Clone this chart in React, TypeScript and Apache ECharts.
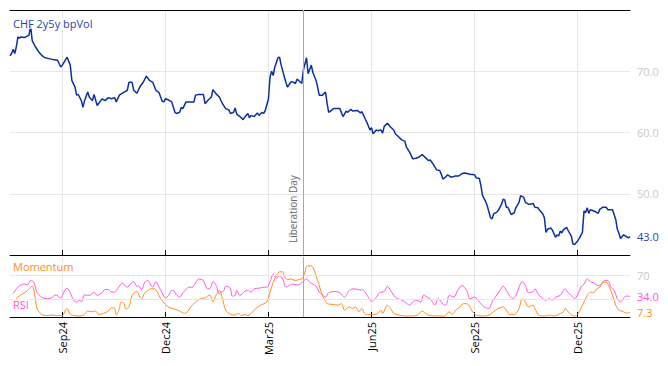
import React, { useEffect, useRef } from "react";
import * as echarts from "echarts";

// ---- axis / calendar ----
const START_DATE = "2024-07-17";
const TRADING_DAYS = 392;
const LIBERATION_DATE = "2025-04-02";
const MONTHS = ["Jan", "Feb", "Mar", "Apr", "May", "Jun", "Jul", "Aug", "Sep", "Oct", "Nov", "Dec"];
const QUARTER_MONTHS = [3, 6, 9, 12];

// ---- CHF 2y5y bpVol (trading-day index, value) ----
const volDay = [0, 1, 2, 3, 4, 5, 6, 7, 9, 10, 12, 13, 14, 16, 18, 20, 22, 24, 27, 30, 32, 33, 36, 38, 39, 41, 42, 43, 45, 46, 47, 49, 50, 52, 53, 55, 58, 60, 62, 64, 66, 67, 69, 72, 74, 75, 77, 78, 80, 82, 84, 86, 88, 90, 92, 94, 96, 97, 98, 100, 102, 104, 105, 107, 108, 109, 111, 113, 116, 117, 119, 122, 123, 125, 127, 128, 130, 132, 134, 136, 138, 139, 141, 142, 143, 145, 147, 148, 150, 151, 152, 154, 156, 157, 159, 160, 161, 163, 164, 165, 166, 167, 169, 170, 171, 173, 174, 175, 177, 178, 180, 181, 182, 184, 185, 187, 188, 190, 191, 193, 194, 195, 197, 199, 200, 201, 203, 204, 208, 210, 212, 213, 215, 216, 219, 221, 222, 224, 225, 227, 228, 229, 231, 232, 234, 235, 236, 238, 240, 242, 243, 245, 247, 249, 250, 252, 254, 256, 258, 260, 262, 264, 265, 267, 269, 271, 272, 273, 275, 276, 278, 281, 283, 285, 287, 290, 293, 294, 296, 297, 298, 300, 301, 303, 304, 305, 307, 308, 310, 311, 312, 313, 314, 315, 316, 318, 319, 321, 322, 324, 325, 327, 328, 330, 331, 333, 334, 336, 337, 338, 339, 341, 342, 344, 345, 346, 347, 348, 349, 351, 352, 354, 355, 356, 358, 359, 361, 362, 363, 364, 365, 366, 367, 369, 371, 372, 374, 376, 377, 380, 382, 383, 384, 385, 387, 388, 390, 391];
const volValue = [72.5, 72.9, 73.6, 72.9, 74.0, 75.6, 75.4, 75.6, 75.5, 75.6, 75.9, 77.4, 75.0, 74.0, 73.2, 72.6, 72.2, 72.1, 71.9, 71.8, 70.7, 71.0, 72.3, 71.0, 68.5, 67.4, 66.1, 66.2, 65.2, 64.1, 65.2, 66.6, 65.8, 65.2, 66.2, 64.4, 65.5, 65.2, 65.7, 65.5, 65.7, 65.0, 66.1, 66.6, 66.9, 68.2, 68.2, 66.9, 66.4, 67.5, 68.2, 69.2, 68.5, 68.2, 66.9, 66.5, 65.1, 65.0, 65.5, 65.3, 65.0, 63.3, 63.1, 63.3, 64.1, 63.9, 65.0, 65.0, 65.0, 66.1, 66.2, 66.2, 64.7, 65.3, 65.8, 67.0, 66.3, 65.8, 64.7, 63.9, 63.7, 63.1, 63.3, 64.0, 63.0, 62.6, 62.1, 62.5, 63.1, 62.4, 62.8, 62.6, 63.2, 62.8, 63.3, 63.1, 63.6, 65.5, 69.1, 70.0, 69.3, 70.7, 72.2, 72.3, 71.0, 69.1, 68.2, 67.4, 68.2, 68.3, 68.0, 68.7, 68.5, 68.0, 70.2, 72.2, 69.6, 71.0, 69.8, 68.5, 67.4, 66.1, 66.1, 66.6, 64.7, 63.3, 63.7, 63.9, 63.9, 62.6, 63.5, 63.3, 63.8, 63.5, 63.6, 63.2, 63.4, 62.2, 61.7, 60.4, 60.8, 59.8, 60.4, 60.3, 60.4, 59.9, 61.0, 61.5, 60.9, 60.4, 59.8, 59.3, 58.8, 58.6, 57.6, 56.8, 55.7, 55.8, 56.0, 56.4, 55.9, 55.4, 55.5, 54.8, 53.9, 53.8, 53.2, 52.4, 52.8, 53.1, 52.7, 52.9, 52.9, 53.3, 53.4, 53.2, 53.1, 52.6, 52.5, 51.3, 49.7, 48.7, 48.0, 46.1, 45.9, 46.7, 47.0, 47.3, 48.3, 49.1, 49.0, 47.8, 47.8, 47.2, 46.6, 46.9, 47.7, 48.6, 49.7, 49.4, 48.6, 48.3, 48.3, 48.4, 47.8, 47.7, 47.3, 46.7, 46.1, 43.7, 44.2, 44.4, 44.1, 42.9, 43.3, 43.1, 43.9, 43.6, 44.1, 44.5, 44.0, 43.1, 41.8, 41.7, 42.3, 42.7, 43.7, 47.2, 46.9, 47.7, 46.8, 47.4, 47.3, 47.1, 46.8, 47.5, 47.8, 47.8, 47.4, 47.4, 45.8, 44.2, 43.6, 42.7, 43.3, 43.1, 42.8, 43.0];

// ---- RSI ----
const rsiDay = [2, 5, 7, 9, 11, 13, 15, 17, 20, 23, 26, 29, 32, 34, 36, 38, 40, 42, 44, 45, 47, 49, 51, 53, 55, 58, 60, 62, 64, 66, 68, 71, 72, 74, 76, 78, 80, 81, 83, 85, 87, 89, 90, 92, 94, 96, 98, 100, 102, 103, 105, 107, 109, 111, 113, 115, 117, 119, 122, 124, 126, 128, 130, 132, 133, 135, 136, 139, 140, 142, 143, 145, 148, 150, 152, 154, 157, 160, 162, 164, 166, 168, 170, 172, 174, 176, 178, 181, 183, 186, 187, 189, 191, 193, 195, 197, 199, 201, 205, 208, 211, 214, 217, 220, 223, 226, 228, 231, 233, 236, 238, 240, 243, 247, 249, 252, 254, 256, 259, 261, 263, 265, 268, 270, 272, 274, 275, 277, 280, 282, 285, 288, 290, 293, 296, 299, 302, 304, 306, 309, 311, 313, 315, 317, 319, 321, 323, 325, 327, 330, 331, 333, 335, 338, 340, 342, 344, 347, 350, 352, 354, 356, 358, 360, 362, 364, 366, 368, 371, 373, 375, 377, 379, 381, 383, 385, 387, 389, 391];
const rsiValue = [39, 50, 53.5, 55, 53.5, 60.7, 58, 41.5, 33, 30.6, 31.7, 37, 31.7, 41.5, 48, 40.4, 27.9, 25, 27.9, 25, 37, 36, 37, 41.5, 36, 40.4, 45.9, 45.9, 41.5, 41.5, 48, 56.8, 53.5, 49.7, 55, 59, 51.4, 51.4, 45.9, 58, 60.7, 52.5, 49.7, 59, 49.7, 40.4, 31.7, 36, 44.3, 44.3, 37, 33, 40.4, 45.9, 49.7, 49.7, 56.8, 63.4, 60.7, 48, 47, 59, 52.5, 38.8, 41.5, 44.3, 51.4, 48, 35, 36, 44.3, 36, 42.6, 44.3, 41.5, 47, 48, 49.7, 49.7, 59, 71.6, 64.5, 68.9, 63.4, 49.7, 52.5, 55, 53.5, 55, 62.3, 63.4, 58, 55, 51.4, 41.5, 37, 33, 40.4, 42.6, 40.4, 33, 44.3, 47, 45.4, 44.3, 33, 26.2, 33, 40.4, 42.6, 51.4, 44.3, 33, 27.9, 25.1, 19.7, 25.1, 27.9, 25.1, 37, 33, 30.6, 19.7, 30.6, 25.1, 19.7, 19.7, 36, 33, 42.6, 52.5, 44.3, 30.6, 33, 25.1, 16.9, 14.2, 25.1, 33, 44.3, 51.4, 44.3, 36, 30.6, 35, 49.7, 59, 52.5, 40.4, 42.6, 47, 38.8, 33, 27.9, 30.6, 27.9, 33, 36, 47, 40.4, 36, 30.6, 37, 49.7, 55, 63.4, 59, 56.8, 52.5, 55, 60.7, 60.7, 49.7, 44.3, 30.6, 25.1, 31.7, 35, 34.0];

// ---- Momentum ----
const momDay = [2, 5, 8, 10, 12, 14, 16, 17, 20, 23, 26, 30, 33, 35, 36, 38, 41, 44, 47, 49, 51, 54, 56, 59, 62, 64, 66, 67, 69, 70, 72, 73, 75, 77, 80, 82, 83, 85, 87, 89, 91, 93, 95, 98, 99, 101, 104, 107, 110, 112, 114, 116, 120, 123, 126, 128, 130, 132, 134, 136, 139, 142, 144, 146, 148, 150, 153, 155, 158, 162, 164, 166, 168, 170, 172, 173, 175, 177, 180, 182, 184, 186, 187, 190, 192, 194, 197, 198, 200, 204, 207, 209, 211, 214, 216, 218, 220, 222, 224, 227, 230, 232, 234, 235, 238, 240, 242, 245, 250, 254, 257, 260, 262, 265, 271, 274, 277, 279, 281, 284, 286, 289, 292, 295, 299, 303, 306, 309, 311, 313, 315, 318, 321, 323, 325, 327, 330, 331, 334, 338, 340, 343, 345, 349, 350, 353, 356, 358, 361, 364, 366, 368, 370, 372, 374, 376, 378, 380, 382, 384, 386, 389, 391];
const momValue = [25, 33, 38.8, 41.5, 47, 51.4, 30.6, 14.2, 4.4, 2.2, 3.3, 2.2, 2.2, 11.5, 14.2, 4.4, 2.2, 1.6, 4.4, 9.8, 8.7, 9.8, 4.4, 6, 9.8, 15.3, 14.2, 3.3, 14.2, 25.1, 22.4, 13.1, 16.9, 36, 42.6, 33, 30.6, 40.4, 44.3, 47, 47, 41.5, 30.6, 20.8, 18.6, 15.3, 13.1, 9.8, 6, 8.7, 16.9, 22.4, 30.6, 31.7, 37, 25.1, 37, 44.3, 30.6, 11.5, 4.4, 3.3, 6, 2.2, 4.4, 2.2, 8.7, 14.2, 19.7, 25.1, 41.5, 57.9, 68.9, 75.4, 75.4, 67.8, 62.3, 63.4, 60.7, 62.3, 63.4, 74.3, 84.2, 85.2, 77, 60.7, 36, 30.6, 22.4, 20.8, 19.7, 22.4, 11.5, 16.9, 14.2, 16.9, 8.7, 14.2, 4.4, 4.4, 4.4, 6, 11.5, 6, 19.7, 14.2, 6, 3.3, 1.6, 1.6, 3.3, 9.8, 6, 2.2, 1.6, 1.6, 8.7, 4.4, 11.5, 16.9, 22.4, 20.8, 7.7, 2.2, 1.6, 4.4, 11.5, 15.3, 16.9, 11.5, 4.4, 4.4, 14.2, 30.6, 25.1, 16.9, 19.7, 14.2, 2.2, 1.6, 3.3, 1.6, 3.3, 8.7, 14.2, 6, 1.6, 4.4, 19.7, 36, 41.5, 40.4, 47, 49.7, 57.9, 57.9, 49.7, 36, 19.7, 11.5, 9.8, 6.5, 7.3];

const BLUE = "#0b30a0";
const BLUE_TEXT = "#2346a8";
const ORANGE = "#ff8c1a";
const PINK = "#ff55dd";
const GRID_GRAY = "#e6e6e6";
const LABEL_GRAY = "#c8c8c8";
const EVENT_GRAY = "#a8a8a8";
const FONT = "Open Sans";

function buildDates(): string[] {
  const out: string[] = [];
  const d = new Date(START_DATE + "T00:00:00Z");
  while (out.length < TRADING_DAYS) {
    const wd = d.getUTCDay();
    if (wd !== 0 && wd !== 6) out.push(d.toISOString().slice(0, 10));
    d.setUTCDate(d.getUTCDate() + 1);
  }
  return out;
}

export default function App() {
  const ref = useRef<HTMLDivElement>(null);

  useEffect(() => {
    document.body.style.margin = "0";
    if (!ref.current) return;
    const chart = echarts.init(ref.current, null, { renderer: "svg" });

    const dates = buildDates();
    const libIndex = dates.indexOf(LIBERATION_DATE);
    const month = (i: number) => Number(dates[i].slice(5, 7));
    const isQuarterTick = (i: number) =>
      i > 0 && month(i) !== month(i - 1) && QUARTER_MONTHS.includes(month(i));
    const tickFn = (i: number) => isQuarterTick(i);
    const fmtDate = (v: string) => MONTHS[Number(v.slice(5, 7)) - 1] + v.slice(2, 4);

    const pairs = (days: number[], vals: number[]) => days.map((d, i) => [d, vals[i]]);
    const lastVol = volValue[volValue.length - 1];
    const lastRsi = rsiValue[rsiValue.length - 1];
    const lastMom = momValue[momValue.length - 1];

    const option: any = {
      animation: false,
      backgroundColor: "#ffffff",
      textStyle: { fontFamily: FONT },
      grid: [
        { left: 10, top: 10, width: 620, height: 245 },
        { left: 10, top: 257, width: 620, height: 60 },
      ],
      xAxis: [
        {
          type: "category",
          gridIndex: 0,
          data: dates,
          boundaryGap: false,
          position: "bottom",
          axisLine: { show: true, lineStyle: { color: "#000", width: 1 } },
          axisTick: { show: true, inside: true, length: 5, interval: tickFn, lineStyle: { color: "#000" } },
          axisLabel: { show: false },
          splitLine: { show: true, interval: tickFn, lineStyle: { color: GRID_GRAY, width: 1 } },
        },
        {
          type: "category",
          gridIndex: 0,
          data: dates,
          boundaryGap: false,
          position: "top",
          axisLine: { show: true, lineStyle: { color: "#000", width: 1 } },
          axisTick: { show: false },
          axisLabel: { show: false },
          splitLine: { show: false },
        },
        {
          type: "category",
          gridIndex: 1,
          data: dates,
          boundaryGap: false,
          position: "bottom",
          axisLine: { show: true, lineStyle: { color: "#000", width: 1 } },
          axisTick: { show: true, inside: true, length: 5, interval: tickFn, lineStyle: { color: "#000" } },
          axisLabel: {
            show: true,
            interval: tickFn,
            rotate: 90,
            margin: 5,
            color: "#000",
            fontSize: 11,
            fontFamily: FONT,
            formatter: (v: string) => fmtDate(v),
          },
          splitLine: { show: true, interval: tickFn, lineStyle: { color: GRID_GRAY, width: 1 } },
        },
      ],
      yAxis: [
        {
          type: "value",
          gridIndex: 0,
          position: "right",
          min: 40,
          max: 80,
          interval: 10,
          axisLine: { show: false },
          axisTick: { show: false },
          splitLine: { show: true, lineStyle: { color: GRID_GRAY, width: 1 } },
          axisLabel: {
            show: true,
            margin: 7,
            fontSize: 11,
            fontFamily: FONT,
            customValues: [lastVol, 50, 60, 70],
            formatter: (v: number) => Number(v).toFixed(1),
            color: (v: any) => (Number(v) === lastVol ? BLUE_TEXT : LABEL_GRAY),
          },
        },
        {
          type: "value",
          gridIndex: 1,
          position: "right",
          min: 0,
          max: 100,
          axisLine: { show: false },
          axisTick: { show: false },
          splitLine: { show: false },
          axisLabel: {
            show: true,
            margin: 7,
            fontSize: 11,
            fontFamily: FONT,
            customValues: [lastMom, lastRsi, 70],
            formatter: (v: number) => (Number(v) === 70 ? "70" : Number(v).toFixed(1)),
            color: (v: any) => {
              const n = Number(v);
              if (n === lastMom) return ORANGE;
              if (n === lastRsi) return PINK;
              return LABEL_GRAY;
            },
          },
        },
      ],
      series: [
        {
          name: "CHF 2y5y bpVol",
          type: "line",
          xAxisIndex: 0,
          yAxisIndex: 0,
          data: pairs(volDay, volValue),
          showSymbol: false,
          symbol: "none",
          z: 3,
          lineStyle: { color: BLUE, width: 1.5 },
          markLine: {
            silent: true,
            symbol: "none",
            lineStyle: { color: EVENT_GRAY, width: 1, type: "solid" },
            label: {
              show: true,
              formatter: "Liberation Day",
              position: "insideStartTop",
              color: "#666",
              fontSize: 10,
              fontFamily: FONT,
              distance: [12, 5],
            },
            data: [{ xAxis: libIndex }],
          },
        },
        {
          name: "RSI",
          type: "line",
          xAxisIndex: 2,
          yAxisIndex: 1,
          data: pairs(rsiDay, rsiValue),
          showSymbol: false,
          symbol: "none",
          smooth: 0.3,
          z: 3,
          lineStyle: { color: PINK, width: 1 },
          markLine: {
            silent: true,
            symbol: "none",
            label: { show: false },
            lineStyle: { color: GRID_GRAY, width: 1, type: "solid" },
            data: [
              { yAxis: 30 },
              { yAxis: 70 },
              { xAxis: libIndex, lineStyle: { color: EVENT_GRAY, width: 1, type: "solid" } },
            ],
          },
        },
        {
          name: "Momentum",
          type: "line",
          xAxisIndex: 2,
          yAxisIndex: 1,
          data: pairs(momDay, momValue),
          showSymbol: false,
          symbol: "none",
          smooth: 0.3,
          z: 4,
          lineStyle: { color: ORANGE, width: 1 },
        },
      ],
      graphic: [
        {
          type: "text",
          left: 13,
          top: 18,
          z: 100,
          style: {
            text: "CHF 2y5y bpVol",
            fill: BLUE_TEXT,
            fontSize: 11,
            fontFamily: FONT,
            backgroundColor: "rgba(255,255,255,0.7)",
          },
        },
        {
          type: "text",
          left: 13,
          top: 261,
          z: 100,
          style: {
            text: "Momentum",
            fill: ORANGE,
            fontSize: 11,
            fontFamily: FONT,
            backgroundColor: "rgba(255,255,255,0.7)",
          },
        },
        {
          type: "text",
          left: 13,
          top: 299,
          z: 100,
          style: {
            text: "RSI",
            fill: PINK,
            fontSize: 11,
            fontFamily: FONT,
            backgroundColor: "rgba(255,255,255,0.7)",
          },
        },
      ],
    };

    chart.setOption(option);
    return () => chart.dispose();
  }, []);

  return <div ref={ref} style={{ width: 668, height: 366 }} />;
}
